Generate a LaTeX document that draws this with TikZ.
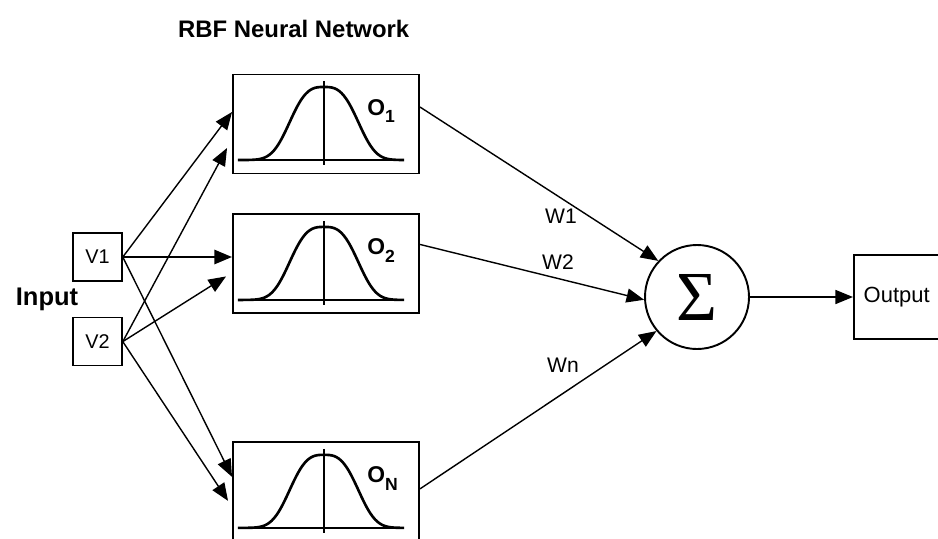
\documentclass[tikz,border=0pt]{standalone}
\usepackage[no-math]{fontspec}
\setmainfont{Liberation Sans}
\newfontfamily\sigmafont{Liberation Serif}
\usetikzlibrary{arrows.meta, positioning}

\begin{document}
\begin{tikzpicture}[
    rbfbox/.style={rectangle, draw=black, line width=1.1pt, minimum width=3.72cm, minimum height=1.98cm, inner sep=0pt},
    inbox/.style={rectangle, draw=black, line width=0.9pt, minimum width=0.98cm, minimum height=0.96cm, inner sep=0pt, font=\fontsize{11.3}{12}\selectfont},
    link/.style={line width=0.8pt, -{Triangle[length=10pt, width=8pt]}},
    wlabel/.style={font=\fontsize{12}{12}\selectfont, inner sep=0pt},
    node distance=0cm
]
    \useasboundingbox (0,0) rectangle (18.76,-10.76);

    % Title
    \node[anchor=base west, font=\fontsize{13.6}{14}\selectfont\bfseries] (title) at (3.44,-0.74) {RBF Neural Network};

    % Input nodes
    \node[inbox] (v1) at (1.95,-5.14) {V1};
    \node[inbox, below=0.70cm of v1] (v2) {V2};
    \node[font=\fontsize{14.5}{15}\selectfont\bfseries] (input) at (0.94,-5.98) {Input};

    % Hidden layer (radial basis units)
    \node[rbfbox] (o1) at (6.52,-2.48) {};
    \node[rbfbox, below=0.78cm of o1] (o2) {};
    \node[rbfbox, below=2.54cm of o2] (oN) {};

    \foreach \b/\s in {o1/1, o2/2, oN/N} {
        \begin{scope}[shift={(\b.center)}, x=0.02cm, y=-0.02cm]
            \draw[line width=1.4pt] (-88,36) -- (78,36);
            \draw[line width=1.5pt] plot[smooth, domain=-86:80, samples=70] ({\x-2}, {36-73*exp(-(abs(\x)/39.5)^3)});
            \draw[line width=1.1pt] (-2,-43) -- (-2,41);
            \node[anchor=base west, inner sep=0pt, font=\fontsize{13}{13}\selectfont\bfseries] (\b-lab) at (41,-9)
                {O\raisebox{-4.5pt}{\fontsize{10}{10}\selectfont\s}};
        \end{scope}
    }

    % Summation and output
    \node[circle, draw=black, line width=1.1pt, minimum size=2.08cm, inner sep=0pt] (sum) at (13.94,-5.94) {\fontsize{40}{40}\selectfont\sigmafont Σ};
    \node[rectangle, draw=black, line width=1.4pt, minimum width=1.7cm, minimum height=1.68cm, right=2.06cm of sum, font=\fontsize{12.5}{13}\selectfont] (out) {Output};

    % Weights
    \node[wlabel] (w1) at (11.22,-4.32) {W1};
    \node[wlabel] (w2) at (11.16,-5.24) {W2};
    \node[wlabel] (wn) at (11.26,-7.30) {Wn};

    % Input connections
    \draw[link] (v1.east) -- ([yshift=0.24cm]o1.west);
    \draw[link, line width=1.4pt] (v1.east) -- (v1.east -| o2.west);
    \draw[link] (v1.east) -- ([yshift=0.3cm]oN.west);
    \draw[link] (v2.east) -- ([xshift=-0.1cm, yshift=-0.48cm]o1.west);
    \draw[link] (v2.east) -- ([xshift=-0.12cm, yshift=-0.25cm]o2.west);
    \draw[link] (v2.east) -- ([xshift=-0.08cm, yshift=-0.18cm]oN.west);

    % Weighted connections
    \draw[link] ([yshift=0.34cm]o1.east) -- (sum.137);
    \draw[link] ([yshift=0.39cm]o2.east) -- (sum.183);
    \draw[link] ([yshift=0.06cm]oN.east) -- (sum.220);
    \draw[link] (sum.east) -- (out.west);
\end{tikzpicture}
\end{document}
